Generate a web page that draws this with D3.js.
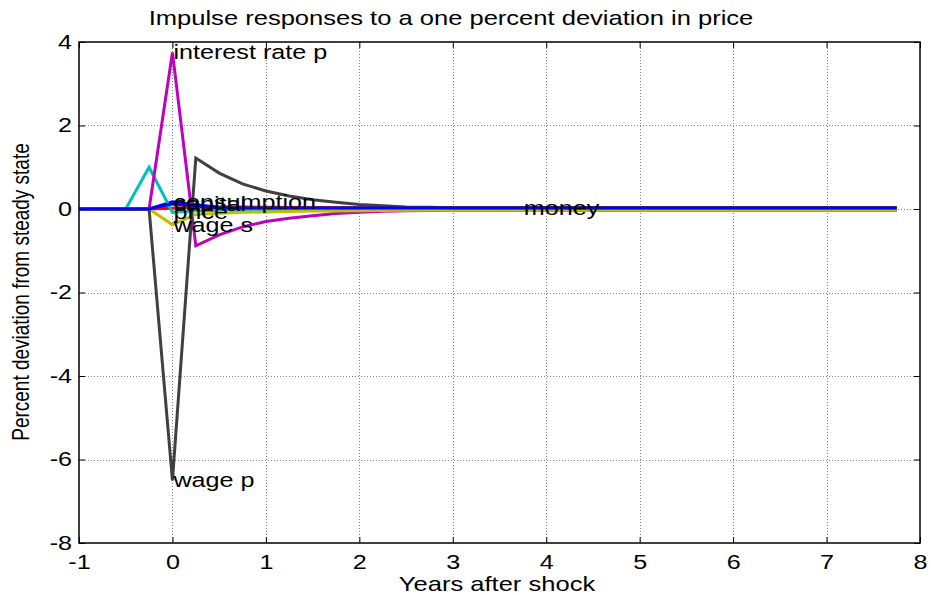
<!DOCTYPE html>
<html>
<head>
<meta charset="utf-8">
<script src="https://cdn.jsdelivr.net/npm/d3@7"></script>
<style>
  body { margin: 0; background: #fff; }
  text { font-family: "Liberation Sans", Arial, sans-serif; fill: #000; }
</style>
</head>
<body>
<svg id="chart" width="931" height="595"></svg>
<script>
// Quarterly time grid, in years relative to the shock
const quarters = [-1, -0.75, -0.5, -0.25, 0, 0.25, 0.5, 0.75, 1, 1.25, 1.5, 1.75,
  2, 2.25, 2.5, 2.75, 3, 3.25, 3.5, 3.75, 4, 4.25, 4.5, 4.75, 5, 5.25, 5.5, 5.75,
  6, 6.25, 6.5, 6.75, 7, 7.25, 7.5, 7.75];

// Percent deviation from steady state, one value per quarter
const consumption = [0, 0, 0, 0, 0.17, 0.10, 0.04, 0.03, 0.025, 0.025, 0.025, 0.025,
  0.025, 0.025, 0.025, 0.025, 0.025, 0.025, 0.025, 0.025, 0.025, 0.025, 0.025, 0.025,
  0.025, 0.025, 0.025, 0.025, 0.025, 0.025, 0.025, 0.025, 0.025, 0.025, 0.025, 0.025];
const capital = [0, 0, 0, 0, 0.12, 0.07, 0.03, 0.025, 0.025, 0.025, 0.025, 0.025,
  0.025, 0.025, 0.025, 0.025, 0.025, 0.025, 0.025, 0.025, 0.025, 0.025, 0.025, 0.025,
  0.025, 0.025, 0.025, 0.025, 0.025, 0.025, 0.025, 0.025, 0.025, 0.025, 0.025, 0.025];
const output = [0, 0, 0, 0, 0.02, 0.05, 0.05, 0.045, 0.04, 0.035, 0.03, 0.03,
  0.025, 0.025, 0.025, 0.025, 0.025, 0.025, 0.025, 0.025, 0.025, 0.025, 0.025, 0.025,
  0.025, 0.025, 0.025, 0.025, 0.025, 0.025, 0.025, 0.025, 0.025, 0.025, 0.025, 0.025];
const price = [0, 0, 0, 1.0, -0.08, -0.04, -0.03, -0.03, -0.025, -0.025, -0.02, -0.02,
  -0.02, -0.02, -0.02, -0.02, -0.02, -0.02, -0.02, -0.02, -0.02, -0.02, -0.02, -0.02,
  -0.02, -0.02, -0.02, -0.02, -0.02, -0.02, -0.02, -0.02, -0.02, -0.02, -0.02, -0.02];
const interestRateP = [0, 0, 0, 0, 3.75, -0.88, -0.62, -0.43, -0.30, -0.22, -0.16, -0.11,
  -0.08, -0.055, -0.04, -0.035, -0.03, -0.03, -0.03, -0.03, -0.03, -0.03, -0.03, -0.03,
  -0.03, -0.03, -0.03, -0.03, -0.03, -0.03, -0.03, -0.03, -0.03, -0.03, -0.03, -0.03];
const wageS = [0, 0, 0, 0, -0.38, -0.13, -0.10, -0.08, -0.07, -0.06, -0.05, -0.045,
  -0.04, -0.035, -0.03, -0.03, -0.03, -0.03, -0.03, -0.03, -0.03, -0.03, -0.03, -0.03,
  -0.03, -0.03, -0.03, -0.03, -0.03, -0.03, -0.03, -0.03, -0.03, -0.03, -0.03, -0.03];
const wageP = [0, 0, 0, 0, -6.5, 1.22, 0.86, 0.60, 0.43, 0.31, 0.22, 0.16,
  0.11, 0.08, 0.05, 0.04, 0.03, 0.03, 0.03, 0.03, 0.03, 0.03, 0.03, 0.03,
  0.03, 0.03, 0.03, 0.03, 0.03, 0.03, 0.03, 0.03, 0.03, 0.03, 0.03, 0.03];
const money = [0, 0, 0, 0, 0.13, 0.08, 0.03, 0.025, 0.025, 0.025, 0.025, 0.025,
  0.025, 0.025, 0.025, 0.025, 0.025, 0.025, 0.025, 0.025, 0.025, 0.025, 0.025, 0.025,
  0.025, 0.025, 0.025, 0.025, 0.025, 0.025, 0.025, 0.025, 0.025, 0.025, 0.025, 0.025];

// Series in plotting order; label is drawn at the quarter given by labelAt (null = no label)
const seriesNames = ["consumption", "capital", "output", "price", "interest rate p", "wage s", "wage p", "money"];
const seriesValues = [consumption, capital, output, price, interestRateP, wageS, wageP, money];
const seriesColors = ["#0000ff", "#008000", "#ff0000", "#00bfbf", "#bf00bf", "#bfbf00", "#404040", "#0000ff"];
const labelAt = [0, 0, null, 0, 0, 0, 0, 3.75];

const xTicks = [-1, 0, 1, 2, 3, 4, 5, 6, 7, 8];
const yTicks = [-8, -6, -4, -2, 0, 2, 4];

const titleText = "Impulse responses to a one percent deviation in price";
const xLabelText = "Years after shock";
const yLabelText = "Percent deviation from steady state";

// Layout
const W = 931, H = 595;
const plot = { left: 79, right: 920, top: 42, bottom: 543 };
const SX = 1.29;       // horizontal text stretch
const FS = 19.5;       // base font size
const TICK_FS = 19.5;

const svg = d3.select("#chart");
const x = d3.scaleLinear().domain([-1, 8]).range([plot.left, plot.right]);
const y = d3.scaleLinear().domain([-8, 4]).range([plot.bottom, plot.top]);
const plainFormat = d => String(d);

// Background
svg.append("rect").attr("width", W).attr("height", H).attr("fill", "#fff");

// Dotted grid
const grid = svg.append("g").attr("stroke", "#808080").attr("stroke-width", 1)
  .attr("stroke-dasharray", "1,2");
grid.selectAll("line.gx").data(xTicks.slice(1, -1)).join("line")
  .attr("x1", d => Math.round(x(d)) + 0.5).attr("x2", d => Math.round(x(d)) + 0.5)
  .attr("y1", plot.top).attr("y2", plot.bottom);
grid.selectAll("line.gy").data(yTicks.slice(1, -1)).join("line")
  .attr("y1", d => Math.round(y(d)) + 0.5).attr("y2", d => Math.round(y(d)) + 0.5)
  .attr("x1", plot.left).attr("x2", plot.right);

// Response lines
const line = d3.line().x((d, i) => x(quarters[i])).y(d => y(d));
const lines = svg.append("g").attr("fill", "none").attr("stroke-width", 3)
  .attr("stroke-linejoin", "miter").attr("stroke-linecap", "butt");
seriesValues.forEach((vals, k) => {
  lines.append("path").attr("d", line(vals)).attr("stroke", seriesColors[k]);
});

// Axes: ticks pointing inward on all four sides
function styleAxis(g) {
  g.select(".domain").remove();
  g.selectAll(".tick line").attr("stroke", "#000");
}
const xAxisB = svg.append("g").attr("transform", `translate(0,${plot.bottom})`)
  .call(d3.axisBottom(x).tickValues(xTicks).tickFormat(plainFormat)
    .tickSizeInner(-6).tickSizeOuter(0).tickPadding(12))
  .call(styleAxis);
xAxisB.selectAll(".tick text")
  .attr("font-size", TICK_FS).attr("font-family", "Liberation Sans, Arial, sans-serif")
  .attr("transform", `scale(${SX},1)`);

const yAxisL = svg.append("g").attr("transform", `translate(${plot.left},0)`)
  .call(d3.axisLeft(y).tickValues(yTicks).tickFormat(plainFormat)
    .tickSizeInner(-6).tickSizeOuter(0).tickPadding(7))
  .call(styleAxis);
yAxisL.selectAll(".tick text")
  .attr("font-size", TICK_FS).attr("font-family", "Liberation Sans, Arial, sans-serif")
  .attr("x", -7 / SX)
  .attr("transform", `scale(${SX},1)`);

svg.append("g").attr("transform", `translate(0,${plot.top})`)
  .call(d3.axisTop(x).tickValues(xTicks).tickSizeInner(-6).tickSizeOuter(0).tickFormat(""))
  .call(styleAxis);
svg.append("g").attr("transform", `translate(${plot.right},0)`)
  .call(d3.axisRight(y).tickValues(yTicks).tickSizeInner(-6).tickSizeOuter(0).tickFormat(""))
  .call(styleAxis);

// Axes box
svg.append("rect")
  .attr("x", plot.left).attr("y", plot.top)
  .attr("width", plot.right - plot.left).attr("height", plot.bottom - plot.top)
  .attr("fill", "none").attr("stroke", "#000").attr("stroke-width", 1.5);

// Stretched text helper
function addText(px, py, str, anchor, size, rotate) {
  return svg.append("text")
    .attr("transform", `translate(${px},${py}) scale(${SX},1)` + (rotate ? ` rotate(${rotate})` : ""))
    .attr("text-anchor", anchor)
    .attr("font-size", size)
    .text(str);
}

// Series labels, vertically centred on the labelled point
seriesNames.forEach((name, k) => {
  if (labelAt[k] === null) return;
  const i = quarters.indexOf(labelAt[k]);
  addText(x(quarters[i]) + 1, y(seriesValues[k][i]) + 0.35 * FS, name, "start", FS);
});

// Title and axis labels
addText(451, 25, titleText, "middle", 19.8);
addText(497, 591, xLabelText, "middle", 19.8);
addText(29, 292, yLabelText, "middle", 19, -90);
</script>
</body>
</html>
